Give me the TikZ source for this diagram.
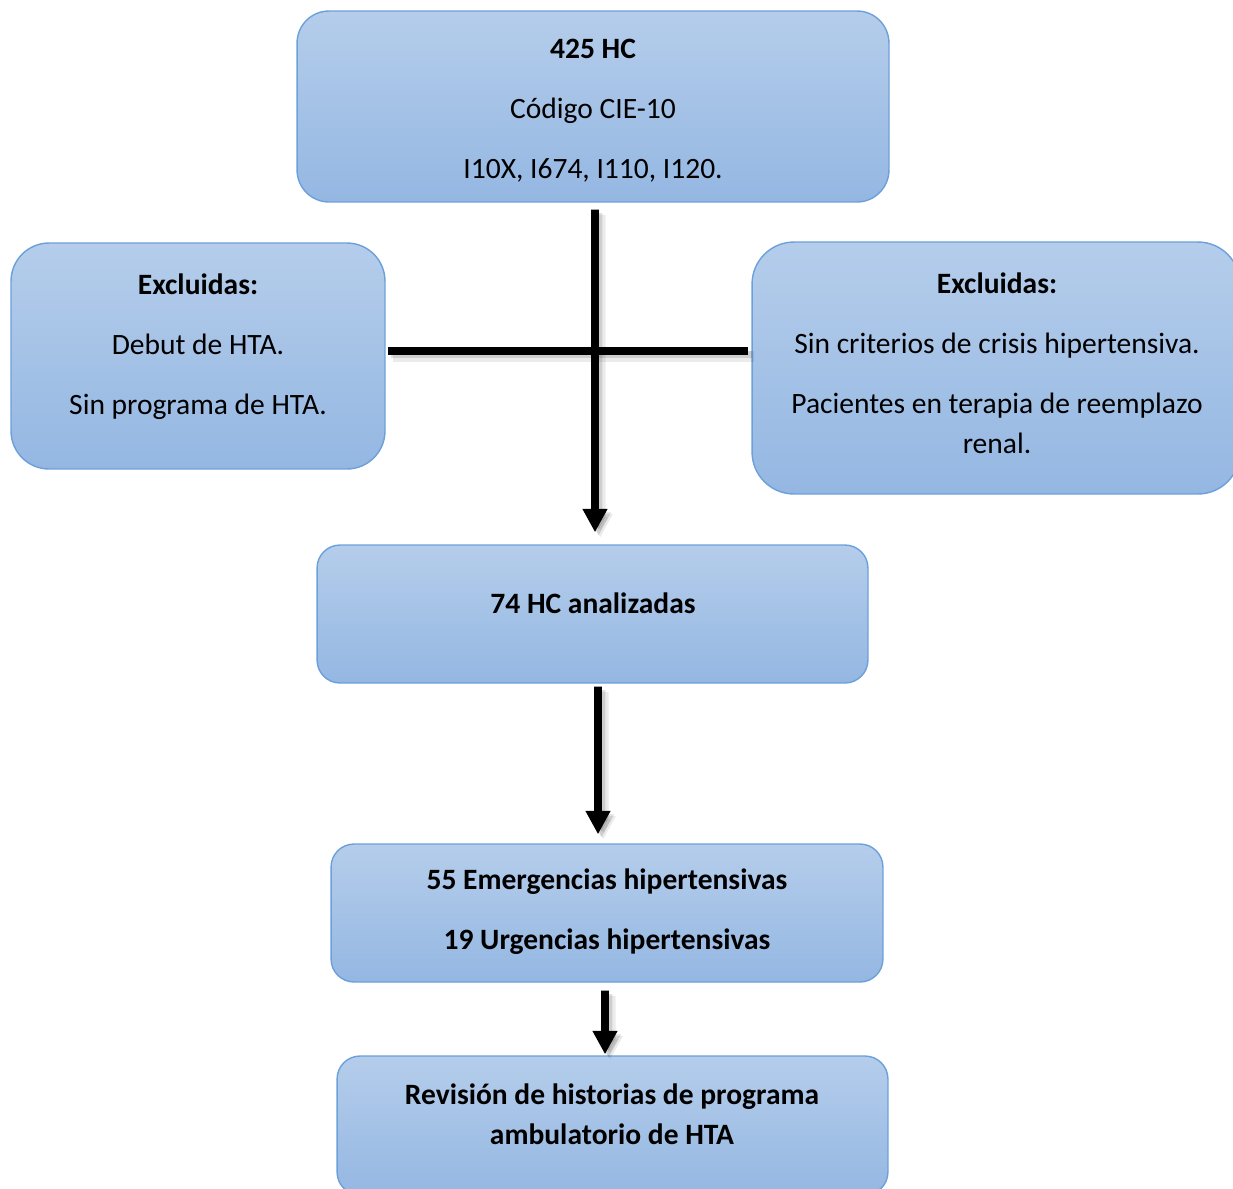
\documentclass[tikz,border=0pt]{standalone}
\usepackage{fontspec}
\setmainfont{Carlito}
\usetikzlibrary{arrows.meta}
\definecolor{boxtop}{RGB}{181,205,235}
\definecolor{boxbot}{RGB}{148,183,226}
\definecolor{boxline}{RGB}{108,160,218}

\begin{document}
\begin{tikzpicture}[x=0.02cm,y=-0.02cm,line width=4.5pt]

	\tikzstyle{every node}=[font=\fontsize{16.8}{22.8}\selectfont,inner sep=0pt]
	
	\tikzstyle{box}=[rectangle,draw=boxline,line width=0.8pt,top color=boxtop,bottom color=boxbot]
	\tikzstyle{txt}=[align=center]
	\tikzstyle{shd}=[preaction={draw=black,opacity=0.08,line width=6pt,transform canvas={xshift=3pt,yshift=-3pt}},
	                 preaction={draw=black,opacity=0.12,transform canvas={xshift=2pt,yshift=-2pt}}]
	\tikzstyle{arr}=[shd,-{Triangle[width=0.47cm,length=0.47cm]}]
	
	\useasboundingbox (0,0) rectangle (1233,1188);
	\clip (0,0) rectangle (1233,1188);
	
	% cajas
	\node[box,minimum width=11.84cm,minimum height=3.82cm,rounded corners=0.64cm] (B0) at (593,106.5) {};
	\node[box,minimum width=7.48cm,minimum height=4.52cm,rounded corners=0.76cm] (EL) at (198,356) {};
	\node[box,minimum width=9.76cm,minimum height=5.04cm,rounded corners=0.84cm] (ER) at (996,368) {};
	\node[box,minimum width=11.02cm,minimum height=2.76cm,rounded corners=0.46cm] (B1) at (592.5,614) {};
	\node[box,minimum width=11.04cm,minimum height=2.76cm,rounded corners=0.46cm] (B2) at (607,913) {};
	\node[box,minimum width=11.02cm,minimum height=2.78cm,rounded corners=0.46cm] (B3) at (612.5,1125.5) {};
	
	% textos
	\node[txt] (T0) at (593,111) {\textbf{425 HC}\\[0.4cm] Código CIE-10\\[0.4cm] I10X, I674, I110, I120.};
	\node[txt] (TL) at (198,347) {\textbf{Excluidas:}\\[0.4cm] Debut de HTA.\\[0.4cm] Sin programa de HTA.};
	\node[txt] (TR) at (997,363.5) {\textbf{Excluidas:}\\[0.4cm] Sin criterios de crisis hipertensiva.\\[0.4cm] Pacientes en terapia de reemplazo\\ renal.};
	\node[txt] (T1) at (593,603) {\textbf{74 HC analizadas}};
	\node[txt] (T2) at (607,912) {\textbf{55 Emergencias hipertensivas}\\[0.4cm] \textbf{19 Urgencias hipertensivas}};
	\node[txt] (T3) at (612,1114) {\textbf{Revisión de historias de programa}\\ \textbf{ambulatorio de HTA}};
	
	\coordinate (X) at (595,351);
	
	% flechas
	\draw[shd,shorten <=0.04cm,shorten >=0.06cm] (EL.east |- X) -- (ER.west |- X);
	\draw[arr,shorten <=0.14cm,shorten >=0.24cm] ([xshift=0.04cm]B0.south) -- ([xshift=0.05cm]B1.north);
	\draw[arr,shorten <=0.06cm,shorten >=0.18cm] ([xshift=0.11cm]B1.south) -- ([xshift=-0.18cm]B2.north);
	\draw[arr,shorten <=0.16cm,shorten >=0.02cm] ([xshift=-0.04cm]B2.south) -- ([xshift=-0.15cm]B3.north);
	
\end{tikzpicture}
\end{document}
